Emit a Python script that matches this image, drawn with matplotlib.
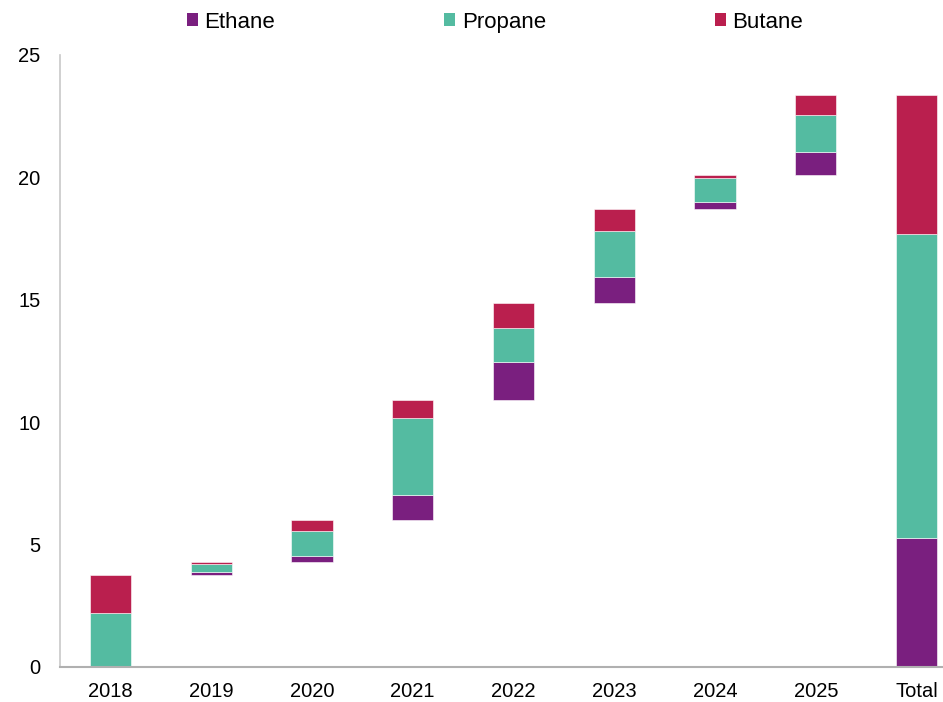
import numpy as np
import matplotlib.pyplot as plt
from matplotlib.patches import Patch

plt.rcParams["font.family"] = ["Liberation Sans", "DejaVu Sans"]

# yearly increments (waterfall steps)
years = ["2018", "2019", "2020", "2021", "2022", "2023", "2024", "2025"]
ethane = [0.0, 0.16, 0.25, 1.05, 1.55, 1.05, 0.31, 0.92]
propane = [2.22, 0.30, 1.03, 3.12, 1.39, 1.89, 0.96, 1.50]
butane = [1.52, 0.09, 0.42, 0.75, 1.03, 0.87, 0.15, 0.84]
total_label = "Total"

colors = {"Ethane": "#7A1F7F", "Propane": "#54BBA1", "Butane": "#BA1F4E"}

labels = years + [total_label]
x = np.arange(len(labels))

eth = np.array(ethane)
pro = np.array(propane)
but = np.array(butane)
step = eth + pro + but
start = np.concatenate([[0], np.cumsum(step)[:-1]])

fig = plt.figure(figsize=(9.43, 7.02), dpi=100)
ax = fig.add_axes([60 / 943, 35 / 702, 907 / 943, 612 / 702])

w = 0.41
kw = dict(width=w, edgecolor="white", linewidth=0.4)
# yearly floating steps
ax.bar(x[:-1], eth, bottom=start, color=colors["Ethane"], **kw)
ax.bar(x[:-1], pro, bottom=start + eth, color=colors["Propane"], **kw)
ax.bar(x[:-1], but, bottom=start + eth + pro, color=colors["Butane"], **kw)

# total column
te, tp, tb = eth.sum(), pro.sum(), but.sum()
ax.bar(x[-1], te, color=colors["Ethane"], **kw)
ax.bar(x[-1], tp, bottom=te, color=colors["Propane"], **kw)
ax.bar(x[-1], tb, bottom=te + tp, color=colors["Butane"], **kw)

ax.set_xlim(-0.5, len(labels) - 0.5)
ax.set_ylim(0, 25)
ax.set_yticks([0, 5, 10, 15, 20, 25])
ax.set_xticks(x)
ax.set_xticklabels(labels)
ax.tick_params(axis="y", length=0, pad=14, labelsize=14.5)
ax.tick_params(axis="x", length=0, pad=11, labelsize=14.5)

for s in ["top", "right"]:
    ax.spines[s].set_visible(False)
ax.spines["left"].set_color("#C8C8C8")
ax.spines["bottom"].set_color("#B0B0B0")
ax.spines["left"].set_linewidth(1.2)
ax.spines["bottom"].set_linewidth(1.5)

handles = [Patch(facecolor=c, label=k) for k, c in colors.items()]
fig.legend(handles=handles, loc="upper center", bbox_to_anchor=(495 / 943, 1.012),
           ncol=3, frameon=False, fontsize=16, handlelength=0.5, handleheight=0.5,
           handletextpad=0.3, columnspacing=7.6)

fig.savefig("out.png", dpi=100)
